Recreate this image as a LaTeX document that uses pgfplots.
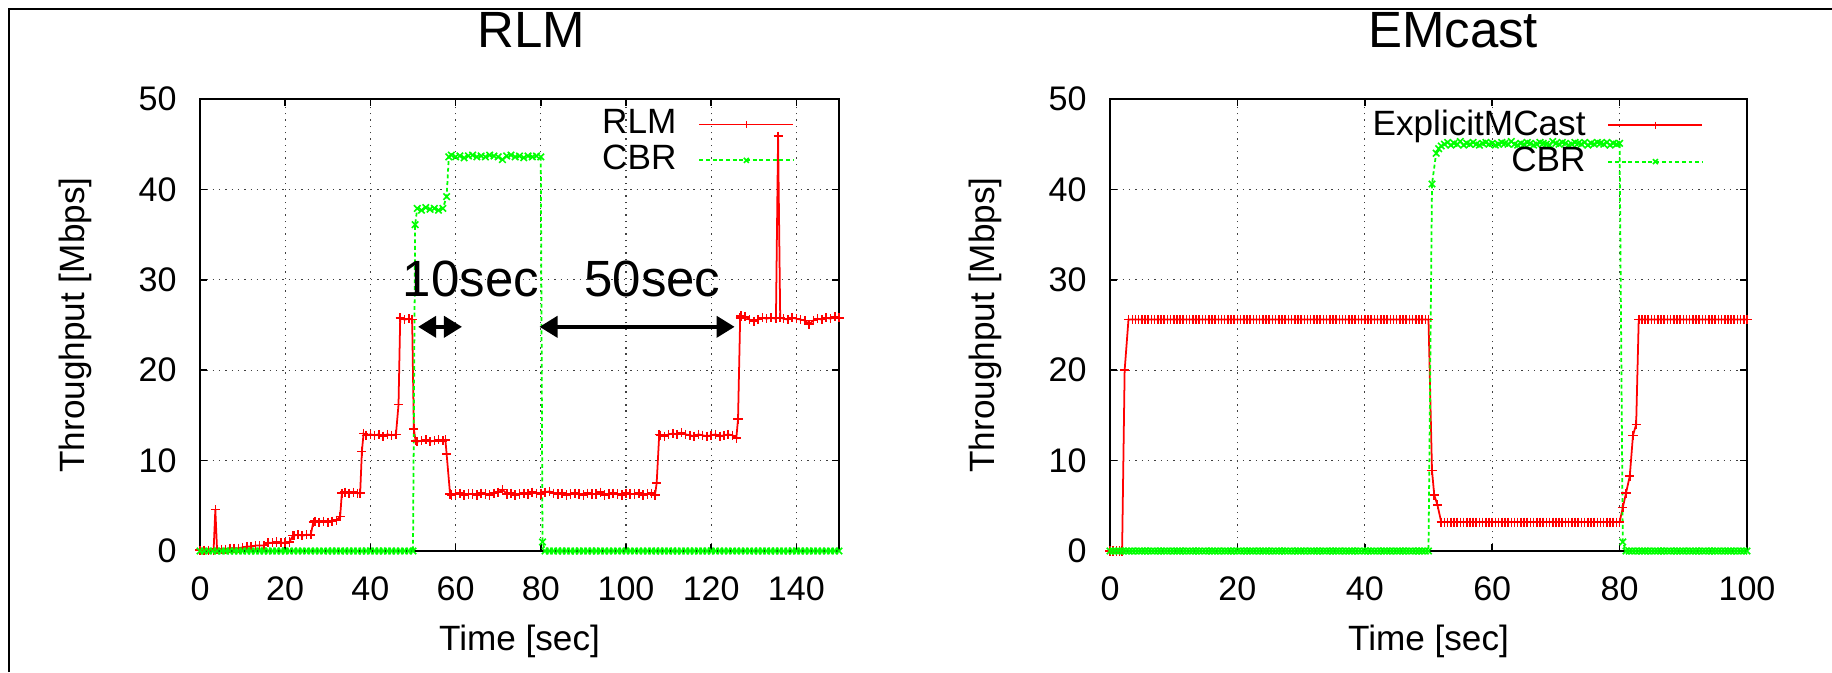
\documentclass[border=0pt]{standalone}
\usepackage{fontspec}
\setmainfont{Liberation Sans}
\usepackage{pgfplots}
\pgfplotsset{compat=1.18}
\usetikzlibrary{arrows.meta}

\pgfplotsset{
  gp/.style={
    scale only axis, width=6.39cm, height=4.52cm,
    ymin=0, ymax=50, ytick={0,10,...,50}, xmin=0,
    grid=major,
    grid style={black!75, line width=0.35pt, dash pattern=on 0.4pt off 1.4pt},
    axis line style={line width=0.5pt},
    tick style={black, line width=0.5pt},
    tick align=inside, major tick length=0.07cm,
    tick label style={font=\fontsize{9.7}{10}\selectfont},
    /pgf/number format/assume math mode=true,
    xticklabel style={yshift=-0.13cm},
    yticklabel style={xshift=-0.11cm},
    xlabel={Time [sec]}, ylabel={Throughput [Mbps]},
    label style={font=\fontsize{10}{12}\selectfont},
    every axis x label/.style={at={(axis description cs:0.5,-0.199)}, anchor=center},
    every axis y label/.style={at={(axis description cs:-0.195,0.5)}, anchor=center, rotate=90},
    legend plot pos=right, legend cell align=right,
    legend style={draw=none, fill=none, anchor=north east, inner sep=0pt,
      nodes={inner sep=0pt, font=\fontsize{10}{12}\selectfont},
      column sep=0.22cm, row sep=1.8pt},
    legend image code/.code={\draw[mark repeat=2, mark phase=2, #1, mark size=1pt] plot coordinates {(0cm,0cm) (0.47cm,0cm) (0.94cm,0cm)};},
    clip=false,
  },
  rlm/.style={red, line width=0.5pt, mark=+, mark size=1.3pt, mark options={solid, line width=0.45pt}},
  cbr/.style={green, line width=0.5pt, dash pattern=on 1.1pt off 0.8pt, mark=x, mark size=1.3pt, mark options={solid, line width=0.45pt}},
}

\begin{document}
\begin{tikzpicture}
\useasboundingbox (0,0) rectangle (18.32,6.72);
\draw[line width=0.7pt] (0.09,0) -- (0.09,6.63) -- (18.32,6.63);

% RLM
\begin{axis}[gp, at={(2.00cm,1.21cm)}, anchor=south west,
  xmax=150, xtick={0,20,...,140},
  title={RLM}, title style={font=\fontsize{14.5}{16}\selectfont, anchor=center, at={(axis description cs:0.518,1.106)}},
  legend style={at={(axis description cs:0.931,0.978)}}]
\addplot[rlm] coordinates {
(0,0.1) (1,0.1) (2,0.1) (3.2,0.1) (3.6,4.6) (4,0.2) (5,0.2) (6,0.2) (7,0.3) (8,0.3) (9,0.3) (10,0.4)
(11,0.5) (12,0.5) (13,0.6) (14,0.6) (15,0.6) (16,0.9) (17,0.9) (18,1.0) (19,0.9) (20,0.9) (21,1.0)
(21.8,1.7) (22,1.7) (23,1.8) (24,1.7) (25,1.8) (26,1.8) (26.6,3.2) (27,3.3) (28,3.2) (29,3.3) (30,3.2)
(31,3.3) (32,3.4) (32.9,3.8) (33.3,6.4) (34,6.5) (35,6.4) (36,6.5) (37,6.4) (37.6,6.4) (38,11.0)
(38.4,13.0) (39,12.8) (40,12.9) (41,12.8) (42,12.9) (43,12.7) (44,12.9) (45,12.8) (46,12.9) (46.6,16.2)
(47,25.8) (48,25.6) (49,25.7) (49.8,25.6) (50.2,13.5) (50.6,12.2) (51,12.1) (52,12.2) (53,12.3)
(54,12.1) (55,12.2) (56,12.3) (57,12.2) (57.6,12.3) (57.9,10.7) (58.7,6.3) (59,6.2) (60,6.3) (61,6.4)
(62,6.2) (63,6.3) (64,6.3) (65,6.2) (66,6.4) (67,6.3) (68,6.2) (69,6.4) (70,6.5) (71,6.8) (72,6.3)
(73,6.4) (74,6.2) (75,6.3) (76,6.4) (77,6.3) (78,6.5) (79,6.4) (80,6.3) (81,6.5) (82,6.6) (83,6.4)
(84,6.3) (85,6.4) (86,6.2) (87,6.3) (88,6.4) (89,6.3) (90,6.2) (91,6.4) (92,6.3) (93,6.3) (94,6.5)
(95,6.2) (96,6.3) (97,6.4) (98,6.3) (99,6.2) (100,6.4) (101,6.3) (102,6.3) (103,6.4) (104,6.2)
(105,6.3) (106,6.4) (106.8,6.2) (107.2,7.5) (107.8,12.9) (108,12.8) (109,12.7) (110,12.9) (111,13.0)
(112,12.9) (113,13.1) (114,12.9) (115,12.8) (116,12.7) (117,12.9) (118,12.8) (119,12.7) (120,12.8)
(121,12.9) (122,12.7) (123,12.8) (124,12.9) (125,12.8) (125.9,12.5) (126.3,14.6) (126.8,25.8)
(127,26.0) (128,25.9) (129,25.6) (130,25.4) (131,25.6) (132,25.8) (133,25.7) (134,25.8) (135.2,25.7)
(135.7,45.9) (136.2,25.8) (137,25.7) (138,25.6) (139,25.8) (140,25.7) (141,25.6) (142,25.5) (143,25.1)
(144,25.5) (145,25.7) (146,25.6) (147,25.8) (148,25.7) (149,25.9) (150,25.8)
};
\addlegendentry{RLM}
\addplot[cbr] coordinates {
(0,0) (1,0) (2,0) (3,0) (4,0) (5,0) (6,0) (7,0) (8,0) (9,0) (10,0) (11,0) (12,0) (13,0) (14,0)
(15,0) (16,0) (17,0) (18,0) (19,0) (20,0) (21,0) (22,0) (23,0) (24,0) (25,0) (26,0) (27,0) (28,0)
(29,0) (30,0) (31,0) (32,0) (33,0) (34,0) (35,0) (36,0) (37,0) (38,0) (39,0) (40,0) (41,0) (42,0)
(43,0) (44,0) (45,0) (46,0) (47,0) (48,0) (49,0) (50,0)
(50.5,36.1) (51,37.9) (52,37.7) (53,38.0) (54,37.8) (55,37.9) (56,37.7) (57,37.9) (57.9,39.2)
(58.4,43.6) (59,43.8) (60,43.6) (61,43.7) (62,43.5) (63,43.7) (64,43.8) (65,43.6) (66,43.7) (67,43.6)
(68,43.8) (69,43.7) (70,43.6) (71,43.3) (72,43.7) (73,43.8) (74,43.6) (75,43.7) (76,43.5) (77,43.7)
(78,43.6) (79,43.7) (80,43.6) (80.4,1.0)
(81,0) (82,0) (83,0) (84,0) (85,0) (86,0) (87,0) (88,0) (89,0) (90,0) (91,0) (92,0) (93,0) (94,0)
(95,0) (96,0) (97,0) (98,0) (99,0) (100,0) (101,0) (102,0) (103,0) (104,0) (105,0) (106,0) (107,0)
(108,0) (109,0) (110,0) (111,0) (112,0) (113,0) (114,0) (115,0) (116,0) (117,0) (118,0) (119,0)
(120,0) (121,0) (122,0) (123,0) (124,0) (125,0) (126,0) (127,0) (128,0) (129,0) (130,0) (131,0)
(132,0) (133,0) (134,0) (135,0) (136,0) (137,0) (138,0) (139,0) (140,0) (141,0) (142,0) (143,0)
(144,0) (145,0) (146,0) (147,0) (148,0) (149,0) (150,0)
};
\addlegendentry{CBR}
\node[font=\fontsize{14.5}{16}\selectfont] at (axis cs:63.6,30.1) {10sec};
\node[font=\fontsize{14.5}{16}\selectfont] at (axis cs:106.2,30.1) {50sec};
\draw[line width=1.1pt, {Triangle[length=0.18cm,width=0.21cm]}-{Triangle[length=0.18cm,width=0.21cm]}]
  (axis cs:51.2,24.8) -- (axis cs:61.5,24.8);
\draw[line width=1.1pt, {Triangle[length=0.18cm,width=0.21cm]}-{Triangle[length=0.18cm,width=0.21cm]}]
  (axis cs:79.7,24.8) -- (axis cs:125.5,24.8);
\end{axis}

% EMcast
\begin{axis}[gp, at={(11.10cm,1.21cm)}, anchor=south west, width=6.37cm,
  xmax=100, xtick={0,20,...,100},
  title={EMcast}, title style={font=\fontsize{14.5}{16}\selectfont, anchor=center, at={(axis description cs:0.5385,1.106)}},
  legend style={at={(axis description cs:0.9325,0.978)}}]
\addplot[rlm] coordinates {
(0,0) (0.5,0) (1,0) (1.5,0) (1.9,0) (2.3,20.0) (2.9,25.6)
(3.5,25.6) (4,25.6) (4.5,25.6) (5,25.6) (5.5,25.6) (6,25.6) (6.5,25.6) (7,25.6) (7.5,25.6) (8,25.6)
(8.5,25.6) (9,25.6) (9.5,25.6) (10,25.6) (10.5,25.6) (11,25.6) (11.5,25.6) (12,25.6) (12.5,25.6)
(13,25.6) (13.5,25.6) (14,25.6) (14.5,25.6) (15,25.6) (15.5,25.6) (16,25.6) (16.5,25.6) (17,25.6)
(17.5,25.6) (18,25.6) (18.5,25.6) (19,25.6) (19.5,25.6) (20,25.6) (20.5,25.6) (21,25.6) (21.5,25.6)
(22,25.6) (22.5,25.6) (23,25.6) (23.5,25.6) (24,25.6) (24.5,25.6) (25,25.6) (25.5,25.6) (26,25.6)
(26.5,25.6) (27,25.6) (27.5,25.6) (28,25.6) (28.5,25.6) (29,25.6) (29.5,25.6) (30,25.6) (30.5,25.6)
(31,25.6) (31.5,25.6) (32,25.6) (32.5,25.6) (33,25.6) (33.5,25.6) (34,25.6) (34.5,25.6) (35,25.6)
(35.5,25.6) (36,25.6) (36.5,25.6) (37,25.6) (37.5,25.6) (38,25.6) (38.5,25.6) (39,25.6) (39.5,25.6)
(40,25.6) (40.5,25.6) (41,25.6) (41.5,25.6) (42,25.6) (42.5,25.6) (43,25.6) (43.5,25.6) (44,25.6)
(44.5,25.6) (45,25.6) (45.5,25.6) (46,25.6) (46.5,25.6) (47,25.6) (47.5,25.6) (48,25.6) (48.5,25.6)
(49,25.6) (49.5,25.6) (50,25.6)
(50.55,8.9) (50.9,6.2) (51.4,5.1) (52,3.2) (52.5,3.2) (53,3.2) (53.5,3.2) (54,3.2) (54.5,3.2) (55,3.2)
(55.5,3.2) (56,3.2) (56.5,3.2) (57,3.2) (57.5,3.2) (58,3.2) (58.5,3.2) (59,3.2) (59.5,3.2) (60,3.2)
(60.5,3.2) (61,3.2) (61.5,3.2) (62,3.2) (62.5,3.2) (63,3.2) (63.5,3.2) (64,3.2) (64.5,3.2) (65,3.2)
(65.5,3.2) (66,3.2) (66.5,3.2) (67,3.2) (67.5,3.2) (68,3.2) (68.5,3.2) (69,3.2) (69.5,3.2) (70,3.2)
(70.5,3.2) (71,3.2) (71.5,3.2) (72,3.2) (72.5,3.2) (73,3.2) (73.5,3.2) (74,3.2) (74.5,3.2) (75,3.2)
(75.5,3.2) (76,3.2) (76.5,3.2) (77,3.2) (77.5,3.2) (78,3.2) (78.5,3.2) (79,3.2) (79.5,3.2) (80,3.2)
(80.5,4.8) (81,6.4) (81.6,8.3) (82.1,12.8) (82.6,14.0) (83,25.6) (83.5,25.6) (84,25.6) (84.5,25.6)
(85,25.6) (85.5,25.6) (86,25.6) (86.5,25.6) (87,25.6) (87.5,25.6) (88,25.6) (88.5,25.6) (89,25.6)
(89.5,25.6) (90,25.6) (90.5,25.6) (91,25.6) (91.5,25.6) (92,25.6) (92.5,25.6) (93,25.6) (93.5,25.6)
(94,25.6) (94.5,25.6) (95,25.6) (95.5,25.6) (96,25.6) (96.5,25.6) (97,25.6) (97.5,25.6) (98,25.6)
(98.5,25.6) (99,25.6) (99.5,25.6) (100,25.6)
};
\addlegendentry{ExplicitMCast}
\addplot[cbr] coordinates {
(0,0) (0.5,0) (1,0) (1.5,0) (2,0) (2.5,0) (3,0) (3.5,0) (4,0) (4.5,0) (5,0) (5.5,0) (6,0) (6.5,0)
(7,0) (7.5,0) (8,0) (8.5,0) (9,0) (9.5,0) (10,0) (10.5,0) (11,0) (11.5,0) (12,0) (12.5,0) (13,0)
(13.5,0) (14,0) (14.5,0) (15,0) (15.5,0) (16,0) (16.5,0) (17,0) (17.5,0) (18,0) (18.5,0) (19,0)
(19.5,0) (20,0) (20.5,0) (21,0) (21.5,0) (22,0) (22.5,0) (23,0) (23.5,0) (24,0) (24.5,0) (25,0)
(25.5,0) (26,0) (26.5,0) (27,0) (27.5,0) (28,0) (28.5,0) (29,0) (29.5,0) (30,0) (30.5,0) (31,0)
(31.5,0) (32,0) (32.5,0) (33,0) (33.5,0) (34,0) (34.5,0) (35,0) (35.5,0) (36,0) (36.5,0) (37,0)
(37.5,0) (38,0) (38.5,0) (39,0) (39.5,0) (40,0) (40.5,0) (41,0) (41.5,0) (42,0) (42.5,0) (43,0)
(43.5,0) (44,0) (44.5,0) (45,0) (45.5,0) (46,0) (46.5,0) (47,0) (47.5,0) (48,0) (48.5,0) (49,0)
(49.5,0) (50,0)
(50.55,40.6) (51.2,44.0) (51.6,44.5) (52,44.8) (52.5,45.0) (53,45.2) (53.5,44.9) (54,45.1) (54.5,45.0)
(55,45.3) (55.5,44.9) (56,45.1) (56.5,45.0) (57,45.2) (57.5,45.0) (58,44.9) (58.5,45.1) (59,45.2)
(59.5,45.0) (60,45.1) (60.5,44.9) (61,45.0) (61.5,45.2) (62,45.1) (62.5,45.0) (63,45.3) (63.5,45.0)
(64,44.9) (64.5,45.1) (65,45.0) (65.5,45.2) (66,45.1) (66.5,44.9) (67,45.0) (67.5,45.2) (68,45.1)
(68.5,45.0) (69,44.9) (69.5,45.3) (70,45.1) (70.5,45.0) (71,45.2) (71.5,45.1) (72,44.9) (72.5,45.0)
(73,45.2) (73.5,45.1) (74,45.0) (74.5,45.2) (75,44.9) (75.5,45.1) (76,45.0) (76.5,45.2) (77,45.1)
(77.5,45.0) (78,45.2) (78.5,44.9) (79,45.1) (79.5,45.0) (80,45.1) (80.5,1.0)
(81,0) (81.5,0) (82,0) (82.5,0) (83,0) (83.5,0) (84,0) (84.5,0) (85,0) (85.5,0) (86,0) (86.5,0)
(87,0) (87.5,0) (88,0) (88.5,0) (89,0) (89.5,0) (90,0) (90.5,0) (91,0) (91.5,0) (92,0) (92.5,0)
(93,0) (93.5,0) (94,0) (94.5,0) (95,0) (95.5,0) (96,0) (96.5,0) (97,0) (97.5,0) (98,0) (98.5,0)
(99,0) (99.5,0) (100,0)
};
\addlegendentry{CBR}
\end{axis}
\end{tikzpicture}
\end{document}
